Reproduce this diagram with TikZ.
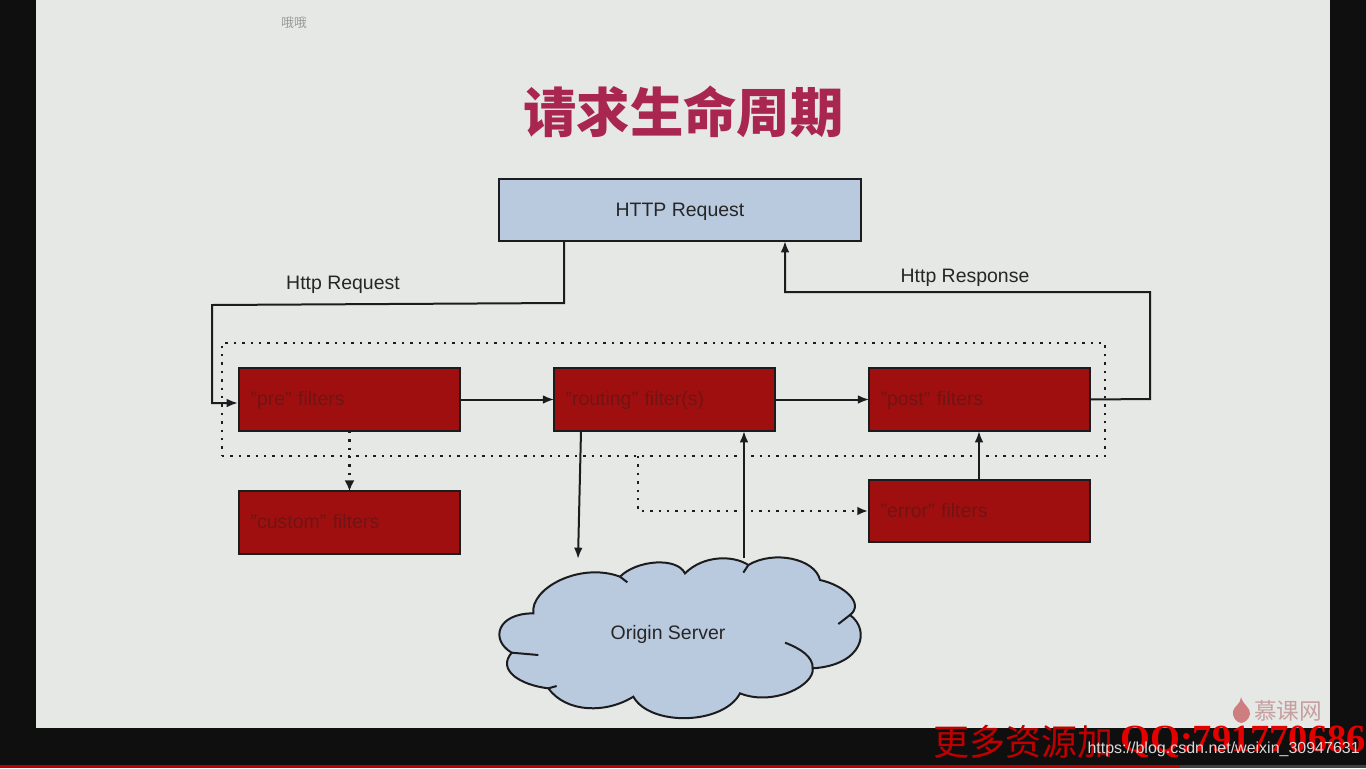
\documentclass[tikz,border=0pt]{standalone}
\usepackage{fontspec}
\usepackage{xcolor}
\setmainfont{Liberation Sans}
\newfontfamily\cjk{Noto Sans CJK SC}
\newfontfamily\wmserif{Liberation Serif}
\usetikzlibrary{arrows.meta, positioning}

\definecolor{slidebg}{HTML}{E6E8E6}
\definecolor{framebg}{HTML}{0F0F0F}
\definecolor{boxblue}{HTML}{B9CADF}
\definecolor{boxred}{HTML}{A00F0F}
\definecolor{redtext}{HTML}{701414}
\definecolor{linedark}{HTML}{1C1C1E}
\definecolor{titlered}{HTML}{A8264F}

\begin{document}
\begin{tikzpicture}[
        x=0.75pt, y=-0.75pt,
        node distance=2cm,
        bluebox/.style={draw=linedark, fill=boxblue, line width=1.5pt, outer sep=0pt, align=center, text=black!85, font=\fontsize{14.6}{17}\selectfont, text height=12pt, text depth=2.5pt, minimum width=9.55cm, minimum height=1.62cm},
        redbox/.style={draw=linedark, fill=boxred, line width=1.5pt, outer sep=0pt, inner xsep=8.5pt, text width=148.4pt, align=left, text=redtext, font=\fontsize{14.6}{17}\selectfont, text height=12pt, text depth=2.5pt, minimum height=1.65cm},
        flowlabel/.style={text=black!85, font=\fontsize{14.6}{17}\selectfont, text height=12pt, text depth=2.5pt},
        arrow/.style={-{Latex[length=8.5pt,width=6.5pt]}, line width=1.5pt, draw=linedark},
        dotline/.style={line width=1.8pt, draw=linedark, dash pattern=on 1.8pt off 4.5pt}
    ]
    
    % Background
    \fill[framebg] (0,0) rectangle (1366,768);
    \useasboundingbox (0,0) rectangle (1366,768);
    \fill[slidebg] (36,0) rectangle (1330,728);
    \fill[red!75!black] (0,765) rectangle (1180,768);
    \fill[black!75] (1180,765) rectangle (1366,768);
    
    % Title
    \node[text=black!40, font=\cjk\fontsize{9.5}{11}\selectfont] (mark) at (294,23) {哦哦};
    \node[text=titlered, font=\cjk\bfseries\fontsize{40}{44}\selectfont] (title) at (683.5,112) {请求生命周期};
    
    % Group around the filters
    \node[dotline, minimum width=662.25pt, minimum height=84.75pt, outer sep=0pt] (group) at (663.5,399.5) {};
    
    % Nodes
    \node[bluebox] (http) at (680,210) {HTTP Request};
    \node[redbox] (pre) at (349.5,399.5) {"pre" filters};
    \node[redbox, right=2.49cm of pre] (routing) {"routing" filter(s)};
    \node[redbox, right=2.49cm of routing] (post) {"post" filters};
    \node[redbox, below=1.59cm of pre] (custom) {"custom" filters};
    \node[redbox, below=1.29cm of post] (error) {"error" filters};
    
    % Cloud
    \begin{scope}[shift={(490,550)}, x=0.25pt, y=-0.25pt]
        \draw[fill=boxblue, draw=linedark, line width=1.5pt] (130,190)
            .. controls (120,115) and (270,35) .. (390,80)
            .. controls (440,30) and (560,20) .. (585,70)
            .. controls (640,15) and (730,15) .. (775,45)
            .. controls (850,0) and (975,25) .. (990,90)
            .. controls (1060,105) and (1125,160) .. (1080,195)
            .. controls (1142,240) and (1120,345) .. (968,355)
            .. controls (975,405) and (850,470) .. (750,430)
            .. controls (700,525) and (480,530) .. (430,440)
            .. controls (350,490) and (230,490) .. (175,415)
            .. controls (90,405) and (20,360) .. (65,308)
            .. controls (0,270) and (20,190) .. (130,190) -- cycle;
        \draw[draw=linedark, line width=1.5pt] (390,80) -- (412,97);
        \draw[draw=linedark, line width=1.5pt] (775,45) -- (760,68);
        \draw[draw=linedark, line width=1.5pt] (1080,195) -- (1045,222);
        \draw[draw=linedark, line width=1.5pt] (968,355) .. controls (970,320) and (930,295) .. (885,278);
        \draw[draw=linedark, line width=1.5pt] (65,308) -- (145,315);
        \draw[draw=linedark, line width=1.5pt] (175,415) -- (200,408);
    \end{scope}
    \node[flowlabel] (origin) at (668,633) {Origin Server};
    
    % Helper points
    \coordinate (reqout) at (564,241);
    \coordinate (reqa) at (564,303);
    \coordinate (reqb) at (212,305);
    \coordinate (reqc) at (212,403);
    \coordinate (prein) at (238,403);
    \coordinate (respa) at (1150,399);
    \coordinate (respb) at (1150,292);
    \coordinate (respc) at (785,292);
    \coordinate (respin) at (785,241);
    \coordinate (routeout) at (581,431);
    \coordinate (cloudin) at (578,559);
    \coordinate (cloudout) at (744,558);
    \coordinate (routein) at (744,431);
    \coordinate (erra) at (638,456);
    \coordinate (errb) at (638,511);
    \coordinate (errin) at (868,511);
    \coordinate (errout) at (979,480);
    \coordinate (postin) at (979,431);
    
    % Arrows - request and response
    \draw[arrow] (reqout) -- (reqa) -- (reqb) -- (reqc) -- (prein);
    \draw[arrow] (post.east) -- (respa) -- (respb) -- (respc) -- (respin);
    
    % Arrows - filters
    \draw[arrow] (pre) -- (routing);
    \draw[arrow] (routing) -- (post);
    \draw[arrow] (routeout) -- (cloudin);
    \draw[arrow] (cloudout) -- (routein);
    \draw[arrow] (errout) -- (postin);
    
    % Arrows - dotted
    \draw[dotline, -{Latex[length=8pt,width=7.5pt]}] (pre) -- (custom);
    \draw[dotline, -{Latex[length=8pt,width=6.5pt]}] (erra) -- (errb) -- (errin);
    
    % Labels
    \node[flowlabel] (reqlabel) at (343,283) {Http Request};
    \node[flowlabel] (resplabel) at (965,276) {Http Response};
    
    % Watermarks
    \fill[red!45!gray!70] (1241,697) .. controls (1243,705) and (1251,708) .. (1250,714) .. controls (1249,720) and (1244,723) .. (1241,723) .. controls (1236,722) and (1232,717) .. (1233,711) .. controls (1234,706) and (1241,704) .. (1241,697) -- cycle;
    \node[text=red!25!gray!60, font=\cjk\fontsize{17}{19}\selectfont, inner sep=0pt] (logo) at (1288,711) {慕课网};
    \node[anchor=west, inner sep=0pt, text=red!75!black] (wma) at (933,742) {\cjk\fontsize{27}{30}\selectfont 更多资源加};
    \node[anchor=west, inner sep=0pt, text=red!90!black, font=\wmserif\bfseries\fontsize{28.8}{30}\selectfont] (wmb) at (1120,742) {QQ:791770686};
    \node[anchor=east, inner sep=0pt, text=black!15, font=\fontsize{12}{15}\selectfont] (url) at (1360,749) {https://blog.csdn.net/weixin\_30947631};
    
\end{tikzpicture}
\end{document}
